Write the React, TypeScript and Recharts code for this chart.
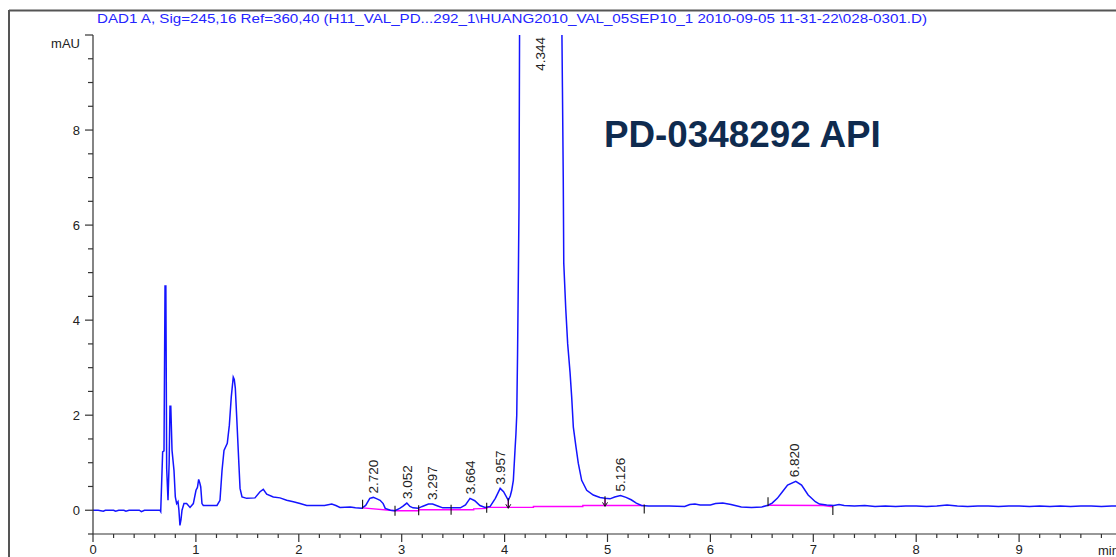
import React from 'react';
import { ComposedChart, Line, Scatter, XAxis, YAxis } from 'recharts';

// ---- Chromatogram signal (DAD1 A, 245 nm) ----
const signalTime = [
  0.0, 0.05, 0.1, 0.12, 0.2, 0.22, 0.25, 0.3, 0.32, 0.35, 0.45, 0.47, 0.5, 0.6, 0.65,
  0.658, 0.677, 0.69, 0.7, 0.708, 0.716, 0.729, 0.74, 0.748, 0.756, 0.768, 0.787, 0.8,
  0.813, 0.826, 0.835, 0.845, 0.855, 0.865, 0.884, 0.91, 0.943, 0.975, 1.001, 1.015,
  1.027, 1.037, 1.047, 1.059, 1.072, 1.137, 1.205, 1.234, 1.254, 1.273, 1.305, 1.325,
  1.344, 1.363, 1.373, 1.383, 1.397, 1.416, 1.429, 1.448, 1.494, 1.574, 1.623, 1.655,
  1.688, 1.752, 1.817, 1.882, 1.947, 2.012, 2.077, 2.16, 2.25, 2.32, 2.36, 2.4, 2.5,
  2.55, 2.61, 2.65, 2.69, 2.724, 2.76, 2.79, 2.82, 2.84, 2.89, 2.935, 2.98, 3.01, 3.05,
  3.08, 3.11, 3.16, 3.2, 3.26, 3.3, 3.35, 3.4, 3.47, 3.57, 3.62, 3.664, 3.71, 3.76,
  3.81, 3.86, 3.91, 3.957, 3.99, 4.036, 4.055, 4.069, 4.085, 4.101, 4.11, 4.118, 4.126,
  4.134, 4.14, 4.146, 4.16, 4.22, 4.3, 4.344, 4.4, 4.48, 4.53, 4.555, 4.562, 4.57,
  4.575, 4.594, 4.613, 4.636, 4.652, 4.668, 4.694, 4.716, 4.749, 4.798, 4.862, 4.927,
  4.976, 5.024, 5.07, 5.126, 5.18, 5.23, 5.28, 5.33, 5.4, 5.5, 5.6, 5.75, 5.8, 5.85,
  5.9, 6.0, 6.05, 6.12, 6.2, 6.3, 6.4, 6.5, 6.56, 6.6, 6.65, 6.7, 6.75, 6.83, 6.886,
  6.95, 7.02, 7.06, 7.13, 7.2, 7.25, 7.3, 7.4, 7.5, 7.6, 7.7, 7.8, 7.9, 8.0, 8.1, 8.2,
  8.3, 8.35, 8.4, 8.5, 8.6, 8.7, 8.8, 8.9, 9.0, 9.1, 9.2, 9.3, 9.4, 9.5, 9.6, 9.7, 9.8,
  9.9, 10.0,
];
const signalMAU = [
  0.0, 0.0, -0.02, 0.0, 0.0, -0.02, 0.0, 0.0, -0.02, 0.0, 0.0, -0.03, 0.0, 0.0, 0.0,
  -0.03, 1.23, 1.25, 4.72, 4.72, 0.88, 0.21, 1.0, 2.19, 2.19, 1.26, 0.84, 0.28,
  0.14, 0.18, 0.0, -0.32, -0.2, 0.0, 0.14, 0.14, 0.06, 0.14, 0.42, 0.48,
  0.65, 0.58, 0.49, 0.14, 0.1, 0.1, 0.1, 0.21, 0.84, 1.26, 1.41, 1.79,
  2.39, 2.8, 2.75, 2.57, 1.94, 1.05, 0.46, 0.28, 0.25, 0.26, 0.39, 0.44,
  0.34, 0.28, 0.26, 0.21, 0.18, 0.14, 0.1, 0.1, 0.1, 0.13, 0.1, 0.06, 0.07,
  0.05, 0.04, 0.1, 0.25, 0.27, 0.24, 0.21, 0.14, 0.04, 0.0, -0.01, 0.04, 0.08, 0.15,
  0.08, 0.05, 0.04, 0.08, 0.13, 0.13, 0.09, 0.05, 0.05, 0.05, 0.11, 0.25, 0.2, 0.1,
  0.06, 0.08, 0.25, 0.46, 0.39, 0.21, 0.3, 0.42, 0.63, 1.26, 1.6, 2.0, 3.3,
  5.0, 6.4, 10.5, 16, 30, 40, 42, 38, 22, 14, 10.5, 8.9, 7.0,
  5.2, 4.25, 3.5, 2.9, 2.38, 1.75, 1.33, 0.99, 0.63, 0.42, 0.32, 0.27,
  0.25, 0.24, 0.28, 0.31, 0.27, 0.22, 0.15, 0.1, 0.09, 0.09, 0.09, 0.08, 0.12, 0.13,
  0.11, 0.11, 0.14, 0.15, 0.12, 0.07, 0.06, 0.07, 0.105, 0.15, 0.25, 0.39, 0.53, 0.61, 0.53,
  0.32, 0.18, 0.13, 0.11, 0.1, 0.12, 0.1, 0.09, 0.1, 0.08, 0.09, 0.08, 0.09, 0.09, 0.08, 0.09,
  0.11, 0.1, 0.09, 0.08, 0.09, 0.09, 0.08, 0.09, 0.09, 0.08, 0.09, 0.08, 0.09, 0.08, 0.09, 0.09, 0.08,
  0.09, 0.09,
];

// ---- Integration baseline (null = gap) ----
const baselineTime = [
  2.62, 2.935, 3.165, 3.165, 3.48, 3.7, 3.7, 3.826, 3.826, 4.036, 4.036, 4.036, 4.28, 4.28,
  4.76, 4.76, 4.976, 4.976, 4.976, 5.357, 5.8, 6.56, 7.1, 7.19,
];
const baselineMAU: (number | null)[] = [
  0.05, -0.01, -0.01, 0.01, 0.01, 0.01, 0.03, 0.04, 0.06, 0.06, 0.21, 0.06, 0.06, 0.08,
  0.08, 0.1, 0.1, 0.25, 0.1, 0.1, null, 0.105, 0.1, 0.07,
];

// ---- Peaks ----
const peakTimes = [2.72, 3.052, 3.297, 3.664, 3.957, 4.344, 5.126, 6.82];
const peakLabels = ['2.720', '3.052', '3.297', '3.664', '3.957', '4.344', '5.126', '6.820'];
const peakHeights = [0.27, 0.15, 0.13, 0.25, 0.46, 42, 0.31, 0.61];

// ---- Integration events ----
const startTimes = [2.62, 6.56];
const startLevels = [0.05, 0.105];
const valleyTimes = [2.935, 3.165, 3.48, 3.826];
const valleyLevels = [-0.01, 0.0, 0.01, 0.05];
const dropTimes = [4.036, 4.976];
const dropLevels = [0.21, 0.25];
const endTimes = [5.357, 7.19];
const endLevels = [0.1, 0.07];

// ---- Axes ----
const xTicks = [
  0, 0.2, 0.4, 0.6, 0.8, 1, 1.2, 1.4, 1.6, 1.8, 2, 2.2, 2.4, 2.6, 2.8, 3, 3.2, 3.4, 3.6, 3.8,
  4, 4.2, 4.4, 4.6, 4.8, 5, 5.2, 5.4, 5.6, 5.8, 6, 6.2, 6.4, 6.6, 6.8, 7, 7.2, 7.4, 7.6, 7.8,
  8, 8.2, 8.4, 8.6, 8.8, 9, 9.2, 9.4, 9.6, 9.8, 10,
];
const xLabels = ['0', '1', '2', '3', '4', '5', '6', '7', '8', '9'];
const yTicks = [
  -0.5, 0, 0.5, 1, 1.5, 2, 2.5, 3, 3.5, 4, 4.5, 5, 5.5, 6, 6.5, 7, 7.5, 8, 8.5, 9, 9.5, 10,
];
const yLabels = ['0', '2', '4', '6', '8'];

const titleText =
  'DAD1 A, Sig=245,16 Ref=360,40 (H11_VAL_PD...292_1\\HUANG2010_VAL_05SEP10_1 2010-09-05 11-31-22\\028-0301.D)';
const compoundText = 'PD-0348292 API';

// ---- Build data tables ----
const signalData = signalTime.map((t, i) => ({ t, v: signalMAU[i] }));
const baselineData = baselineTime.map((t, i) => ({ t, v: baselineMAU[i] }));
const peakData = peakTimes.map((t, i) => ({ t, v: peakHeights[i], label: peakLabels[i] }));
const startData = startTimes.map((t, i) => ({ t, v: startLevels[i] }));
const valleyData = valleyTimes.map((t, i) => ({ t, v: valleyLevels[i] }));
const dropData = dropTimes.map((t, i) => ({ t, v: dropLevels[i] }));
const endData = endTimes.map((t, i) => ({ t, v: endLevels[i] }));

const FONT = '"Liberation Sans", Arial, sans-serif';
const W = 1132;
const H = 557;
const MARGIN = { top: 35, right: 10, bottom: 3, left: 33 };
const Y_MAX = 10;
const AXIS_COLOR = '#333';

const XTick = (props: any) => {
  const { x, y, payload } = props;
  const v = payload.value;
  const isMajor = Math.abs(v - Math.round(v)) < 1e-6;
  const len = isMajor ? 8 : 4;
  const idx = Math.round(v);
  return (
    <g>
      <line x1={x} x2={x} y1={y} y2={y + len} stroke={AXIS_COLOR} strokeWidth={1.2} />
      {isMajor && idx < xLabels.length && (
        <text x={x} y={y + 19.5} textAnchor="middle" fontSize={13} fontFamily={FONT} fill="#222">
          {xLabels[idx]}
        </text>
      )}
      {isMajor && idx === 10 && (
        <text x={x - 24} y={y + 21} textAnchor="start" fontSize={13} fontFamily={FONT} fill="#222">
          min
        </text>
      )}
    </g>
  );
};

const YTick = (props: any) => {
  const { x, y, payload } = props;
  const v = payload.value;
  const isEven = Math.abs(v / 2 - Math.round(v / 2)) < 1e-6;
  const isMajor = isEven && v >= 0;
  const len = isMajor ? 8 : 5;
  const labelIdx = Math.round(v / 2);
  return (
    <g>
      <line x1={x - len} x2={x} y1={y} y2={y} stroke={AXIS_COLOR} strokeWidth={1.2} />
      {isMajor && v < 10 && (
        <text x={x - 13} y={y + 4.7} textAnchor="end" fontSize={13} fontFamily={FONT} fill="#222">
          {yLabels[labelIdx]}
        </text>
      )}
      {v === 10 && (
        <text x={x - 13} y={y + 13} textAnchor="end" fontSize={13} fontFamily={FONT} fill="#222">
          mAU
        </text>
      )}
    </g>
  );
};

const PeakLabel = (props: any) => {
  const { cx, cy, payload } = props;
  if (cx == null || cy == null) return null;
  const clipped = payload.v > Y_MAX;
  if (clipped) {
    return (
      <text
        transform={`translate(${cx + 4.7}, ${MARGIN.top + 2}) rotate(-90)`}
        textAnchor="end"
        fontSize={13.5}
        fontFamily={FONT}
        fill="#222"
      >
        {payload.label}
      </text>
    );
  }
  return (
    <text
      transform={`translate(${cx + 4.7}, ${cy - 4}) rotate(-90)`}
      textAnchor="start"
      fontSize={13.5}
      fontFamily={FONT}
      fill="#222"
    >
      {payload.label}
    </text>
  );
};

const StartMark = (props: any) => {
  const { cx, cy } = props;
  if (cx == null) return null;
  return <line x1={cx} x2={cx} y1={cy - 8} y2={cy + 1} stroke="#111" strokeWidth={1.1} />;
};
const EndMark = (props: any) => {
  const { cx, cy } = props;
  if (cx == null) return null;
  return <line x1={cx} x2={cx} y1={cy - 1} y2={cy + 8} stroke="#111" strokeWidth={1.1} />;
};
const ValleyMark = (props: any) => {
  const { cx, cy } = props;
  if (cx == null) return null;
  return <line x1={cx} x2={cx} y1={cy - 5} y2={cy + 5} stroke="#111" strokeWidth={1.1} />;
};
const DropMark = (props: any) => {
  const { cx, cy } = props;
  if (cx == null) return null;
  return (
    <g>
      <line x1={cx} x2={cx} y1={cy - 2} y2={cy + 8} stroke="#111" strokeWidth={1.1} />
      <path d={`M${cx - 2.5},${cy + 4} L${cx},${cy + 8} L${cx + 2.5},${cy + 4}`} fill="none" stroke="#111" strokeWidth={1} />
    </g>
  );
};

export default function App() {
  return (
    <div
      style={{
        position: 'absolute',
        left: 0,
        top: 0,
        width: 1116,
        height: 557,
        overflow: 'hidden',
        background: '#fff',
      }}
    >
      <ComposedChart width={W} height={H} margin={MARGIN}>
        <XAxis
          dataKey="t"
          type="number"
          domain={[0, 10]}
          allowDataOverflow
          ticks={xTicks}
          interval={0}
          tickSize={0}
          tickMargin={0}
          tickLine={false}
          height={20}
          axisLine={{ stroke: AXIS_COLOR, strokeWidth: 1.2 }}
          tick={(p: any) => <XTick {...p} />}
        />
        <YAxis
          type="number"
          domain={[-0.5, 10]}
          allowDataOverflow
          ticks={yTicks}
          interval={0}
          width={60}
          tickSize={0}
          tickMargin={0}
          tickLine={false}
          axisLine={{ stroke: AXIS_COLOR, strokeWidth: 1.2 }}
          tick={(p: any) => <YTick {...p} />}
        />
        <Line
          data={baselineData}
          dataKey="v"
          type="linear"
          stroke="#ff00ff"
          strokeWidth={1.4}
          dot={false}
          activeDot={false}
          connectNulls={false}
          isAnimationActive={false}
        />
        <Line
          data={signalData}
          dataKey="v"
          type="linear"
          stroke="#1414ff"
          strokeWidth={1.5}
          dot={false}
          activeDot={false}
          isAnimationActive={false}
        />
        <Scatter data={startData} dataKey="v" shape={(p: any) => <StartMark {...p} />} isAnimationActive={false} />
        <Scatter data={endData} dataKey="v" shape={(p: any) => <EndMark {...p} />} isAnimationActive={false} />
        <Scatter data={valleyData} dataKey="v" shape={(p: any) => <ValleyMark {...p} />} isAnimationActive={false} />
        <Scatter data={dropData} dataKey="v" shape={(p: any) => <DropMark {...p} />} isAnimationActive={false} />
        <Scatter data={peakData} dataKey="v" shape={(p: any) => <PeakLabel {...p} />} isAnimationActive={false} />
      </ComposedChart>
      <svg
        width={1116}
        height={557}
        style={{ position: 'absolute', left: 0, top: 0, pointerEvents: 'none' }}
      >
        <line x1={9} x2={1116} y1={10.5} y2={10.5} stroke="#555" strokeWidth={2} />
        <line x1={9} x2={9} y1={10} y2={557} stroke="#555" strokeWidth={2} />
        <text
          x={97}
          y={22.5}
          fontSize={12.5}
          fontFamily={FONT}
          fill="#2424ff"
          textLength={830}
          lengthAdjust="spacingAndGlyphs"
        >
          {titleText}
        </text>
        <text x={604} y={147} fontSize={36.8} fontWeight="bold" fontFamily={FONT} fill="#0f2b4f">
          {compoundText}
        </text>
      </svg>
    </div>
  );
}
